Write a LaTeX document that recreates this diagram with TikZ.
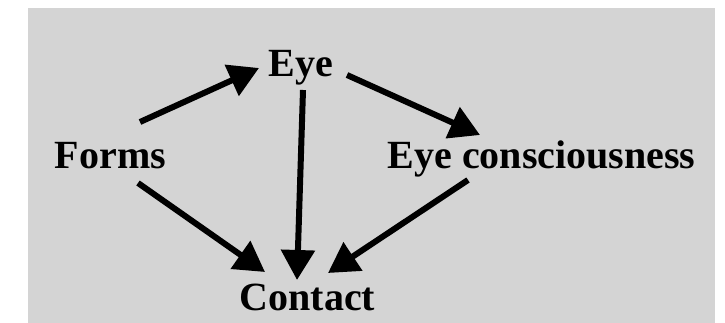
\documentclass[tikz,border=0pt]{standalone}
\usepackage{fontspec}
\setmainfont{Liberation Serif}
\usetikzlibrary{arrows.meta}
\definecolor{bggray}{RGB}{212,212,212}
\tikzset{
  lbl/.style={anchor=base, inner sep=0pt, font=\fontsize{40}{44}\selectfont\bfseries, text=black},
  arr/.style={line width=6pt, -{Triangle[length=30pt,width=33pt]}, black}
}
\begin{document}
\begin{tikzpicture}[x=1pt,y=-1pt]
\useasboundingbox (0,0) rectangle (725,323);
\fill[white] (0,0) rectangle (725,323);
\fill[bggray] (28,8) rectangle (715,323);
\node[lbl] (eye) at (301,77) {Eye};
\node[lbl] (forms) at (110.5,169) {Forms};
\node[lbl] (eyec) at (541.5,169) {Eye consciousness};
\node[lbl] (contact) at (307.5,310) {Contact};
\draw[arr] ([shift={(29.5,-47)}]forms.base) -- ([shift={(-42,-9)}]eye.base);
\draw[arr] ([shift={(46,-2)}]eye.base) -- ([shift={(-61.5,-34)}]eyec.base);
\draw[arr] ([shift={(27.5,14)}]forms.base) -- ([shift={(-42.5,-38)}]contact.base);
\draw[arr] ([shift={(2,13)}]eye.base) -- ([shift={(-10.5,-30)}]contact.base);
\draw[arr] ([shift={(-73.5,11)}]eyec.base) -- ([shift={(20.5,-37)}]contact.base);
\end{tikzpicture}
\end{document}
